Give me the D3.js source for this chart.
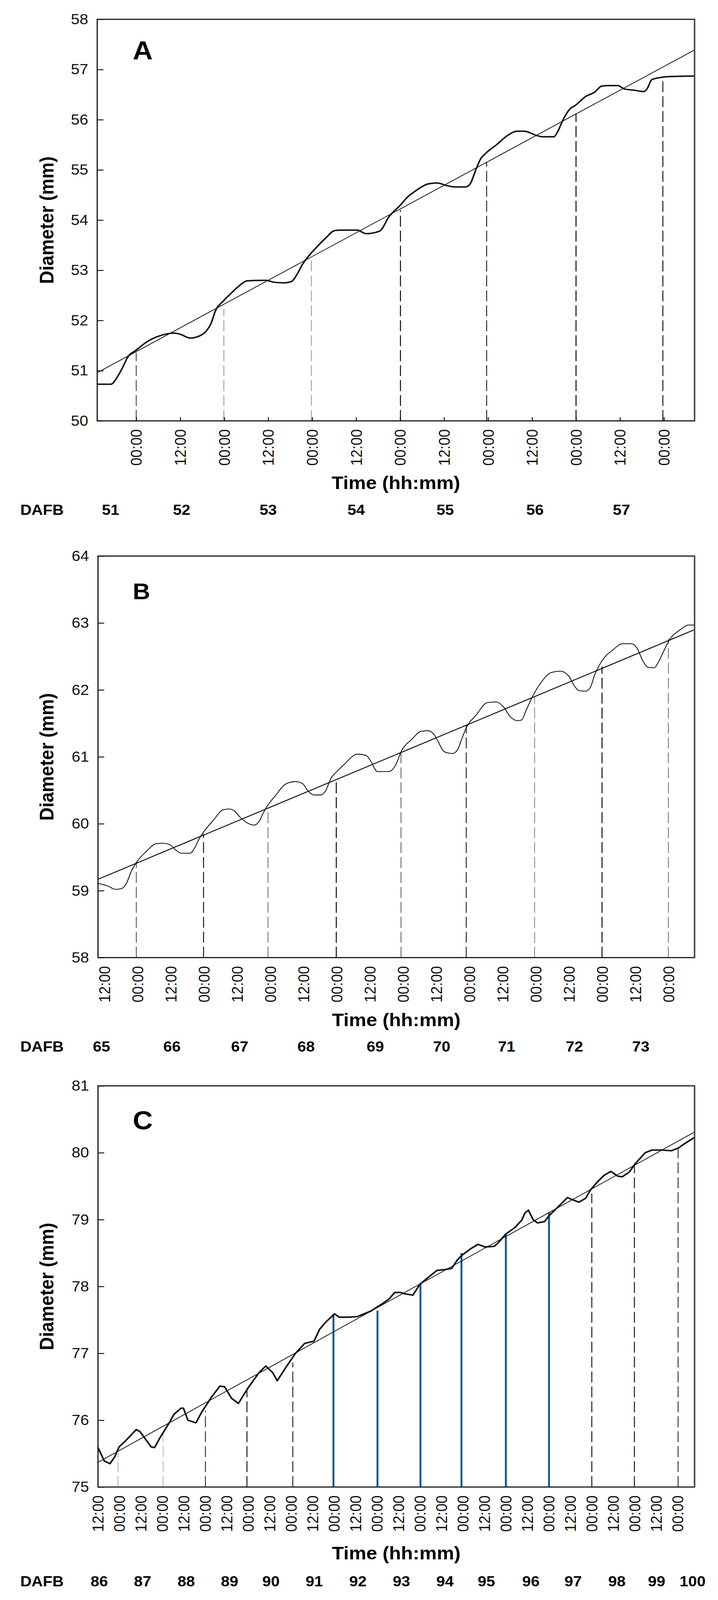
<!DOCTYPE html>
<html>
<head>
<meta charset="utf-8">
<script src="https://cdn.jsdelivr.net/npm/d3@7"></script>
<style>
  html, body { margin: 0; padding: 0; background: #fff; overflow: hidden; }
  svg  { display: block; width: 100vw; height: 100vh; font-family: "Liberation Sans", Arial, sans-serif; }
</style>
</head>
<body>
<svg id="chart" viewBox="0 0 1839 4391" preserveAspectRatio="none"></svg>
<script>
// ── Data (time in hours from the first midnight, diameter in mm) ──────────
const TIME_LABELS = ["00:00", "12:00"];
const DAFB_TITLE  = "DAFB";

// Panel A
const A_CURVE = [
  [-10.65,50.73],[-6.9,50.73],[-5.3,50.86],[-3.4,51.11],[-2.5,51.25],[0,51.41],[2.8,51.57],
  [6.6,51.70],[10.3,51.75],[12.2,51.72],[14.7,51.65],[17.2,51.69],[19.1,51.79],[20.4,51.94],
  [21.6,52.19],[23.8,52.39],[26.0,52.55],[28.4,52.71],[30.3,52.79],[35.3,52.80],[37.8,52.76],
  [40.3,52.75],[42.2,52.77],[43.8,52.91],[45.3,53.11],[46.9,53.27],[49.1,53.45],[51.8,53.65],
  [54.1,53.79],[55.9,53.80],[60.3,53.80],[62.7,53.73],[66.4,53.78],[69.0,54.07],[72.1,54.30],
  [73.9,54.45],[76.4,54.59],[79.6,54.72],[82.1,54.74],[84.6,54.69],[87.0,54.66],[89.9,54.66],
  [91.1,54.72],[92.7,55.01],[93.9,55.21],[95.5,55.34],[98.3,55.50],[101.4,55.69],[103.9,55.77],
  [105.8,55.77],[109.5,55.68],[110.8,55.66],[113.9,55.66],[115.2,55.79],[116.4,55.99],[118.3,56.21],
  [119.9,56.29],[122.6,56.46],[125.1,56.55],[127.0,56.67],[128.9,56.68],[131.4,56.68],[133.3,56.61],
  [135.7,56.59],[138.6,56.56],[139.5,56.63],[140.7,56.80],[143.9,56.85],[145.8,56.86],[152.35,56.87]
];
const A_FIT        = [[-10.65, 50.96], [152.35, 57.39]];
const A_MIDNIGHTS  = [0, 23.9, 47.8, 72.1, 95.6, 120, 143.7];
const A_MID_TOPS   = [51.36, 52.23, 53.19, 54.20, 55.15, 56.12, 56.83];
const A_DAFB       = [51, 52, 53, 54, 55, 56, 57];
const A_DAFB_HOURS = [-7.0, 12.4, 36.0, 60.0, 84.3, 108.8, 132.4];

// Panel B
const B_CURVE = [
  [-14.26,59.11],[-10.8,59.07],[-7.9,59.02],[-5.8,59.03],[-4.1,59.10],[-2.1,59.30],[-0.4,59.42],
  [3.3,59.59],[6.6,59.70],[9.1,59.71],[11.6,59.69],[14.1,59.60],[15.8,59.56],[19.1,59.56],
  [20.7,59.64],[22.4,59.78],[24.0,59.88],[27.4,60.05],[31.1,60.21],[33.2,60.22],[34.8,60.20],
  [37.3,60.09],[39.8,60.01],[42.3,59.98],[43.9,60.03],[45.6,60.17],[47.2,60.28],[49.7,60.41],
  [53.9,60.60],[57.2,60.63],[59.7,60.60],[61.7,60.49],[63.8,60.43],[66.3,60.43],[68.0,60.49],
  [70.0,60.68],[72.1,60.78],[74.6,60.88],[79.6,61.04],[82.7,61.02],[84.3,60.94],[86.8,60.78],
  [91.0,60.78],[93.4,60.88],[95.5,61.09],[99.2,61.26],[102.5,61.38],[105.0,61.39],[107.1,61.34],
  [108.7,61.23],[110.4,61.10],[112.0,61.06],[114.1,61.05],[115.8,61.11],[117.4,61.28],[119.1,61.45],
  [122.4,61.62],[126.5,61.81],[129.8,61.82],[132.3,61.75],[134.8,61.60],[137.3,61.54],[138.9,61.55],
  [140.6,61.70],[143.1,61.92],[145.6,62.09],[149.7,62.26],[153.0,62.28],[155.9,62.21],[158.0,62.06],
  [159.6,61.99],[162.1,61.98],[163.8,62.04],[165.4,62.23],[167.9,62.43],[172.0,62.60],[175.3,62.69],
  [178.7,62.69],[180.7,62.62],[182.8,62.43],[184.5,62.34],[186.9,62.33],[188.2,62.40],[190.2,62.57],
  [192.7,62.77],[196.0,62.89],[199.4,62.97],[201.46,62.97]
];
const B_FIT        = [[-14.26, 59.17], [201.46, 62.90]];
const B_MIDNIGHTS  = [-0.4, 23.9, 47.2, 71.9, 95.3, 118.9, 143.6, 168.0, 192.0];
const B_MID_TOPS   = [59.42, 59.85, 60.24, 60.68, 61.09, 61.48, 61.89, 62.35, 62.77];
const B_DAFB       = [65, 66, 67, 68, 69, 70, 71, 72, 73];
const B_DAFB_HOURS = [-13, 12.5, 37, 61, 86, 110, 133.5, 158, 182];

// Panel C
const C_CURVE = [
  [-11.8,75.59],[-8.3,75.39],[-5.1,75.35],[-2.5,75.45],[0.0,75.60],[3.9,75.70],[9.6,75.86],
  [11.6,75.83],[17.9,75.60],[19.8,75.59],[23.1,75.75],[28.2,75.97],[30.7,76.09],[34.6,76.18],
  [35.9,76.18],[38.4,76.00],[42.9,75.96],[46.1,76.12],[51.2,76.33],[56.3,76.51],[58.9,76.50],
  [62.7,76.33],[66.6,76.25],[71.7,76.47],[78.1,76.71],[81.9,76.81],[85.8,76.71],[88.3,76.59],
  [93.4,76.80],[98.5,77.00],[103.7,77.15],[108.8,77.18],[112.0,77.36],[115.2,77.46],[120.3,77.59],
  [122.9,77.54],[128.0,77.54],[133.1,77.55],[140.5,77.63],[146.9,77.74],[150.7,77.81],[153.9,77.91],
  [157.1,77.91],[159.6,77.89],[164.1,77.87],[167.9,78.03],[172.4,78.13],[177.5,78.24],[181.4,78.25],
  [185.8,78.27],[189.0,78.40],[191.6,78.47],[196.7,78.57],[200.5,78.63],[204.4,78.59],[209.5,78.60],
  [212.0,78.66],[215.8,78.78],[221.0,78.88],[224.8,78.99],[226.7,79.10],[228.6,79.14],[231.2,79.00],
  [233.7,78.95],[237.6,78.97],[240.2,79.06],[244.0,79.16],[247.8,79.26],[250.4,79.33],[252.9,79.30],
  [256.8,79.26],[260.6,79.32],[263.2,79.44],[267.0,79.56],[270.8,79.66],[274.6,79.72],[278.5,79.65],
  [281.0,79.64],[284.9,79.71],[288.1,79.83],[293.8,80.00],[297.6,80.04],[302.8,80.04],[308.5,80.03],
  [312.3,80.07],[315.5,80.13],[321.4,80.23]
];
const C_FIT        = [[-11.8, 75.37], [321.4, 80.31]];
const C_MIDNIGHTS  = [-0.65, 24.6, 48.2, 71.4, 97.0, 119.7, 144.3, 168.3, 191.2, 216.0, 240.1, 264.0, 287.8, 312.2];
const C_MID_TOPS   = [75.51, 75.81, 76.14, 76.47, 76.86, 77.58, 77.64, 78.05, 78.50, 78.78, 79.11, 79.39, 79.82, 80.08];
const C_DAFB       = [86, 87, 88, 89, 90, 91, 92, 93, 94, 95, 96, 97, 98, 99, 100];
const C_DAFB_HOURS = [-11.1, 13.1, 37.5, 61.7, 84.8, 109.0, 133.4, 157.7, 182.0, 205.1, 230.0, 253.6, 278.0, 300.2, 320.3];

// ── Layout / style per panel ─────────────────────────────────────────────
const BLUE = "#15599a";
const panels = [
  { letter: "A", curve: A_CURVE, fit: A_FIT, mids: A_MIDNIGHTS, tops: A_MID_TOPS,
    dafb: A_DAFB, dafbH: A_DAFB_HOURS,
    left: 249, right: 1779, top: 53, bottom: 1155,
    xDom: [-10.65, 152.35], yDom: [50, 58], ticks: d3.range(0, 145, 12), xTick: 10,
    letterSize: 71, letterY: 163, timeY: 1342, dafbY: 1413,
    curveW: 4, fitW: 2, smooth: d3.curveMonotoneX,
    midColors: ["#555", "#aaa", "#aaa", "#111", "#333", "#111", "#222"] },
  { letter: "B", curve: B_CURVE, fit: B_FIT, mids: B_MIDNIGHTS, tops: B_MID_TOPS,
    dafb: B_DAFB, dafbH: B_DAFB_HOURS,
    left: 251, right: 1779, top: 1526, bottom: 2628,
    xDom: [-14.26, 201.46], yDom: [58, 64], ticks: d3.range(-12, 193, 12), xTick: 0,
    letterSize: 62, letterY: 1645, timeY: 2816, dafbY: 2886,
    curveW: 2.2, fitW: 2.6, smooth: d3.curveMonotoneX,
    midColors: ["#666", "#222", "#888", "#111", "#777", "#333", "#999", "#111", "#888"] },
  { letter: "C", curve: C_CURVE, fit: C_FIT, mids: C_MIDNIGHTS, tops: C_MID_TOPS,
    dafb: C_DAFB, dafbH: C_DAFB_HOURS,
    left: 251, right: 1779, top: 2980, bottom: 4081,
    xDom: [-11.8, 321.4], yDom: [75, 81], ticks: d3.range(-12, 313, 12), xTick: 0,
    letterSize: 71, letterY: 3099, timeY: 4280, dafbY: 4354,
    curveW: 4.2, fitW: 2, smooth: d3.curveLinear,
    midColors: ["#bbb", "#c4c4c4", "#444", "#222", "#333", BLUE, BLUE, BLUE, BLUE, BLUE, BLUE, "#222", "#222", "#444"] }
];

const svg = d3.select("#chart");

panels.forEach(p => {
  const x = d3.scaleLinear().domain(p.xDom).range([p.left, p.right]);
  const y = d3.scaleLinear().domain(p.yDom).range([p.bottom, p.top]);
  const g = svg.append("g");

  // midnight markers (dashed grey/black, solid blue)
  g.selectAll("line.mid")
    .data(p.mids.map((h, i) => ({ h, top: p.tops[i], color: p.midColors[i] })))
    .join("line")
      .attr("class", "mid")
      .attr("x1", d => x(d.h)).attr("x2", d => x(d.h))
      .attr("y1", y(p.yDom[0])).attr("y2", d => y(d.top))
      .attr("stroke", d => d.color)
      .attr("stroke-width", d => d.color === BLUE ? 5 : 2.6)
      .attr("stroke-dasharray", d => d.color === BLUE ? null : "30,11");

  // linear fit
  g.append("line")
    .attr("x1", x(p.fit[0][0])).attr("y1", y(p.fit[0][1]))
    .attr("x2", x(p.fit[1][0])).attr("y2", y(p.fit[1][1]))
    .attr("stroke", "#111").attr("stroke-width", p.fitW);

  // diameter curve
  g.append("path")
    .datum(p.curve)
    .attr("fill", "none")
    .attr("stroke", "#111")
    .attr("stroke-width", p.curveW)
    .attr("stroke-linejoin", "round")
    .attr("d", d3.line().x(d => x(d[0])).y(d => y(d[1])).curve(p.smooth));

  // y axis
  const yAx = g.append("g")
    .attr("transform", `translate(${p.left},0)`)
    .call(d3.axisLeft(y).tickValues(d3.range(p.yDom[0], p.yDom[1] + 1))
      .tickSizeInner(-16).tickSizeOuter(0).tickPadding(23).tickFormat(d3.format("d")));
  yAx.select(".domain").remove();
  yAx.selectAll("line").attr("stroke", "#111").attr("stroke-width", 2.5);
  yAx.selectAll("text").attr("font-size", 40).attr("fill", "#111")
    .attr("font-family", "'Liberation Sans', Arial, sans-serif");

  // x axis
  const xAx = g.append("g")
    .attr("transform", `translate(0,${p.bottom})`)
    .call(d3.axisBottom(x).tickValues(p.ticks)
      .tickSizeInner(-p.xTick).tickSizeOuter(0)
      .tickFormat(h => TIME_LABELS[((h % 24) + 24) % 24 === 0 ? 0 : 1]));
  xAx.select(".domain").remove();
  xAx.selectAll("line").attr("stroke", "#111").attr("stroke-width", 2.5);
  xAx.selectAll("text")
    .attr("font-size", 40).attr("fill", "#111")
    .attr("font-family", "'Liberation Sans', Arial, sans-serif")
    .attr("transform", "rotate(-90)")
    .attr("text-anchor", "end")
    .attr("x", -23).attr("y", 0).attr("dy", "0.35em");

  // frame
  g.append("rect")
    .attr("x", p.left).attr("y", p.top)
    .attr("width", p.right - p.left).attr("height", p.bottom - p.top)
    .attr("fill", "none").attr("stroke", "#111").attr("stroke-width", 3);
  g.append("line")
    .attr("x1", p.right).attr("x2", p.right).attr("y1", p.top).attr("y2", p.bottom)
    .attr("stroke", "#444").attr("stroke-width", 3.5);

  // panel letter
  g.append("text")
    .attr("x", 340).attr("y", p.letterY)
    .attr("font-size", p.letterSize).attr("font-weight", "bold")
    .text(p.letter);

  // axis titles
  g.append("text")
    .attr("transform", `translate(137,${(p.top + p.bottom) / 2}) rotate(-90)`)
    .attr("text-anchor", "middle")
    .attr("font-size", 50).attr("font-weight", "bold")
    .text("Diameter (mm)");

  g.append("text")
    .attr("x", (p.left + p.right) / 2).attr("y", p.timeY)
    .attr("text-anchor", "middle")
    .attr("font-size", 50).attr("font-weight", "bold")
    .text("Time (hh:mm)");

  // DAFB row
  g.append("text")
    .attr("x", 52).attr("y", p.dafbY)
    .attr("font-size", 40).attr("font-weight", "bold")
    .text(DAFB_TITLE);

  g.selectAll("text.dafb")
    .data(p.dafb.map((v, i) => ({ v, h: p.dafbH[i] })))
    .join("text")
      .attr("class", "dafb")
      .attr("x", d => x(d.h)).attr("y", p.dafbY)
      .attr("text-anchor", "middle")
      .attr("font-size", 40).attr("font-weight", "bold")
      .text(d => d.v);
});
</script>
</body>
</html>
